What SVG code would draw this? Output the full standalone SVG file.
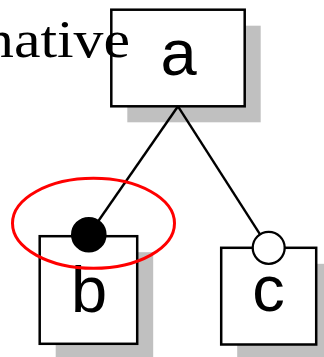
<svg xmlns="http://www.w3.org/2000/svg" width="324" height="357" viewBox="0 0 324 357">
  <style>
    .shadow { fill: #c0c0c0; stroke: none; }
    .box { fill: #ffffff; stroke: #000000; stroke-width: 2.5; }
    .label { font-family: "Liberation Sans", Arial, sans-serif; font-size: 65px; fill: #000000; text-anchor: middle; }
    .note { font-family: "Liberation Serif", "Times New Roman", serif; font-size: 52px; fill: #000000; }
    .edge { stroke: #000000; stroke-width: 2.4; fill: none; }
    .mandatory { fill: #000000; stroke: #000000; stroke-width: 2.2; }
    .optional { fill: #ffffff; stroke: #000000; stroke-width: 2.3; }
    .highlight { fill: none; stroke: #ff0000; stroke-width: 3; }
  </style>

  <rect width="324" height="357" fill="#ffffff"/>

  <!-- feature a (root) -->
  <g id="node-a">
    <rect class="shadow" x="127.3" y="25.7" width="133.4" height="96.6"/>
    <rect class="box" x="111.3" y="9.7" width="133.4" height="96.6"/>
    <text class="label" x="178.5" y="75">a</text>
  </g>

  <!-- side text partly covered by the root box -->
  <g id="note">
    <text class="note" x="-16" y="56.7" textLength="146" lengthAdjust="spacingAndGlyphs">native</text>
  </g>

  <!-- feature b -->
  <g id="node-b">
    <rect class="shadow" x="55.7" y="252.2" width="97.5" height="107.6"/>
    <rect class="box" x="39.7" y="236.2" width="97.5" height="107.6"/>
    <text class="label" x="89" y="312">b</text>
  </g>

  <!-- feature c -->
  <g id="node-c">
    <rect class="shadow" x="237.2" y="263.8" width="95" height="96.7"/>
    <rect class="box" x="221.2" y="247.8" width="95" height="96.7"/>
    <text class="label" x="268.5" y="311">c</text>
  </g>

  <!-- parent-child links with mandatory / optional end markers -->
  <g id="connectors">
    <line class="edge" x1="178" y1="106.3" x2="88.8" y2="234.7"/>
    <line class="edge" x1="178" y1="106.3" x2="268.7" y2="247.8"/>
    <circle class="mandatory" cx="88.8" cy="234.7" r="16.7"/>
    <circle class="optional" cx="268.7" cy="247.8" r="16"/>
  </g>

  <!-- emphasis ring around the mandatory marker -->
  <g id="emphasis">
    <ellipse class="highlight" cx="93.5" cy="223.3" rx="81" ry="45"/>
  </g>
</svg>
